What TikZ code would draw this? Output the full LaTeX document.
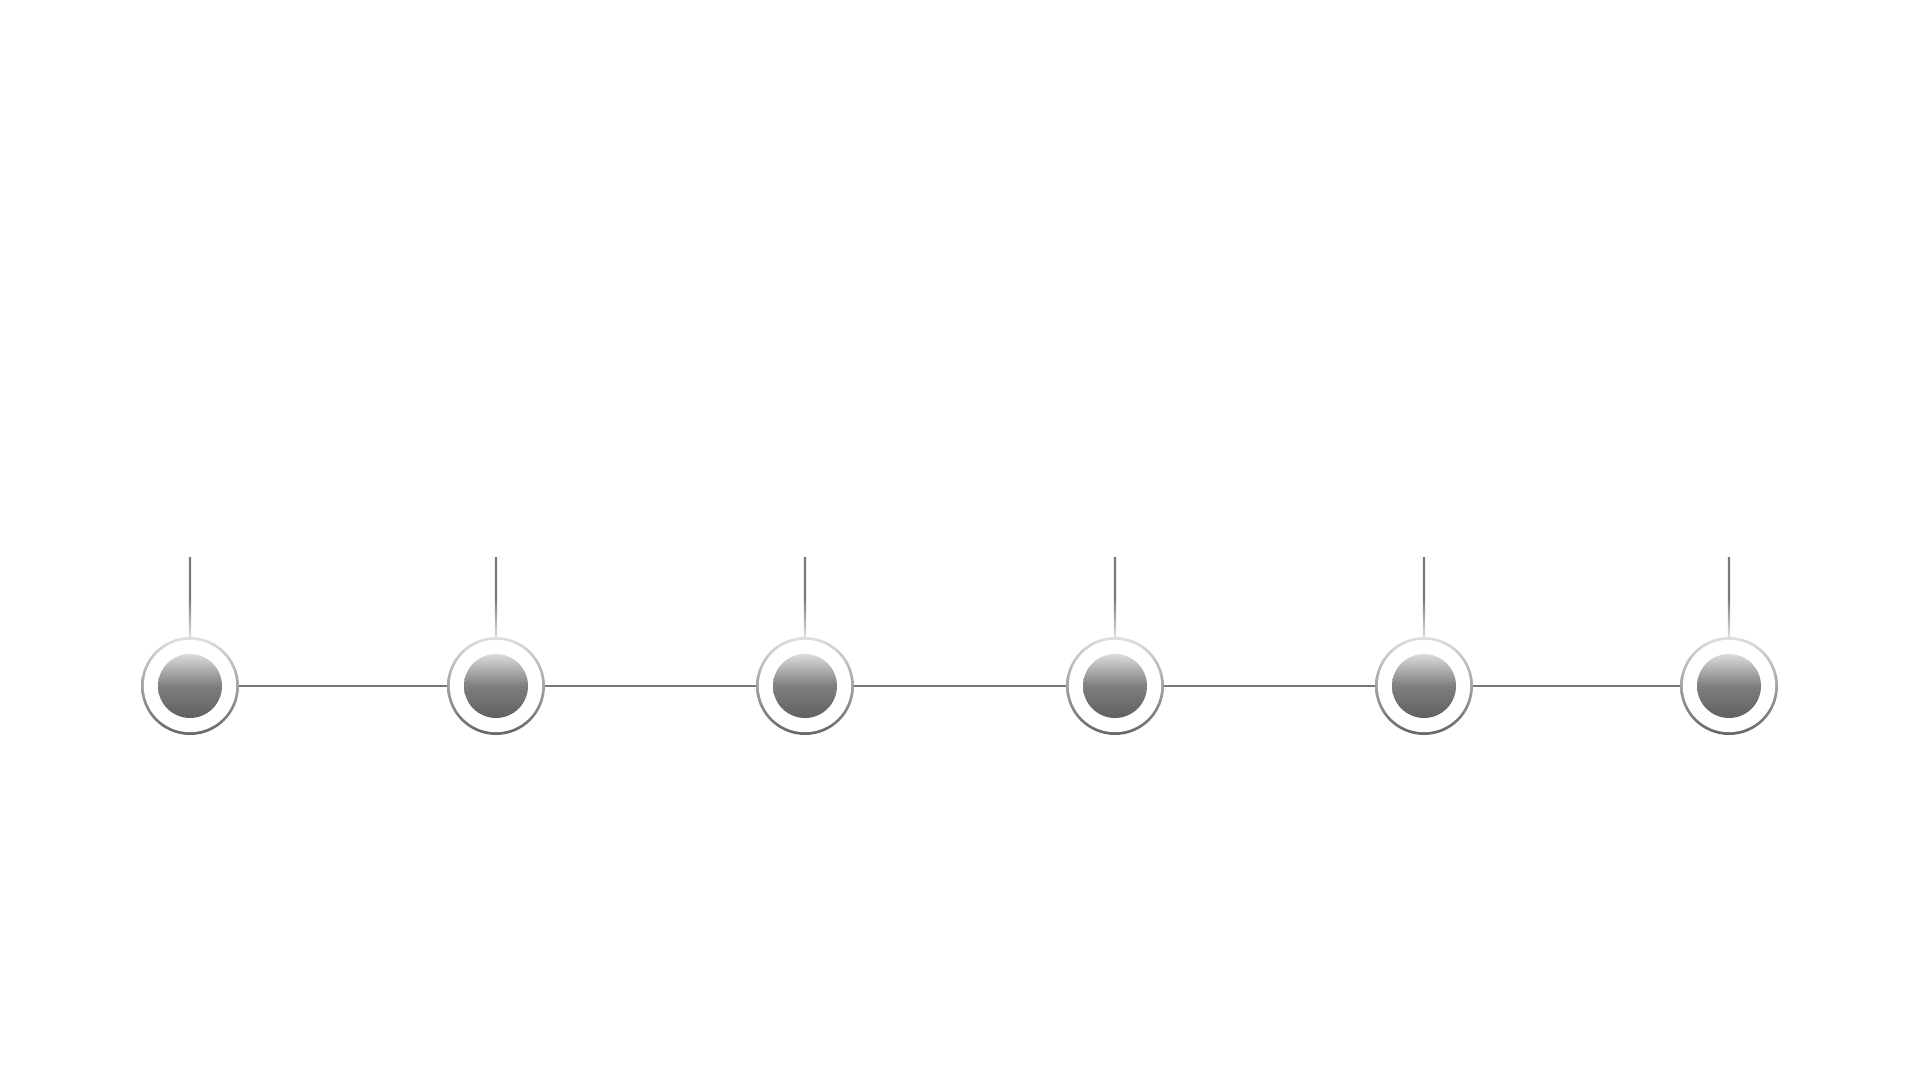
\documentclass[tikz,border=0pt]{standalone}
\usepackage{tikz}
\usetikzlibrary{positioning}
\definecolor{ringtop}{HTML}{DEDFDE}
\definecolor{ringbot}{HTML}{666666}
\definecolor{dottop}{HTML}{DADCDB}
\definecolor{dotmid}{HTML}{7E7E7E}
\definecolor{dotbot}{HTML}{606060}
\definecolor{linkgray}{HTML}{787878}

\begin{document}
\begin{tikzpicture}[ringstyle/.style={
	circle,inner sep=0pt,outer sep=0pt,minimum size=0.98cm,top color=ringtop,bottom color=ringbot,
	path picture={\fill[white] (path picture bounding box.center) circle (0.462cm);}
},dotstyle/.style={
	circle,inner sep=0pt,outer sep=0pt,minimum size=0.64cm,top color=dottop,bottom color=dotbot,middle color=dotmid
},stemstyle/.style={
	rectangle,inner sep=0pt,outer sep=0pt,minimum width=0.024cm,minimum height=0.79cm,top color=linkgray,bottom color=ringtop,middle color=linkgray
},linkstyle/.style={draw=linkgray,line width=0.6pt}]

	\useasboundingbox (0,0) rectangle (19.2,10.8);

	\node[ringstyle] at (1.90,3.94) (t0) {};
	\node[ringstyle,right=2.08cm of t0] (t1) {};
	\node[ringstyle,right=2.11cm of t1] (t2) {};
	\node[ringstyle,right=2.12cm of t2] (t3) {};
	\node[ringstyle,right=2.11cm of t3] (t4) {};
	\node[ringstyle,right=2.07cm of t4] (t5) {};

	\node[dotstyle] at (t0) (d0) {};
	\node[dotstyle] at (t1) (d1) {};
	\node[dotstyle] at (t2) (d2) {};
	\node[dotstyle] at (t3) (d3) {};
	\node[dotstyle] at (t4) (d4) {};
	\node[dotstyle] at (t5) (d5) {};

	\node[stemstyle,above=0cm of t0] (s0) {};
	\node[stemstyle,above=0cm of t1] (s1) {};
	\node[stemstyle,above=0cm of t2] (s2) {};
	\node[stemstyle,above=0cm of t3] (s3) {};
	\node[stemstyle,above=0cm of t4] (s4) {};
	\node[stemstyle,above=0cm of t5] (s5) {};

	\draw[linkstyle] (t0) -- (t1);
	\draw[linkstyle] (t1) -- (t2);
	\draw[linkstyle] (t2) -- (t3);
	\draw[linkstyle] (t3) -- (t4);
	\draw[linkstyle] (t4) -- (t5);
\end{tikzpicture}
\end{document}
